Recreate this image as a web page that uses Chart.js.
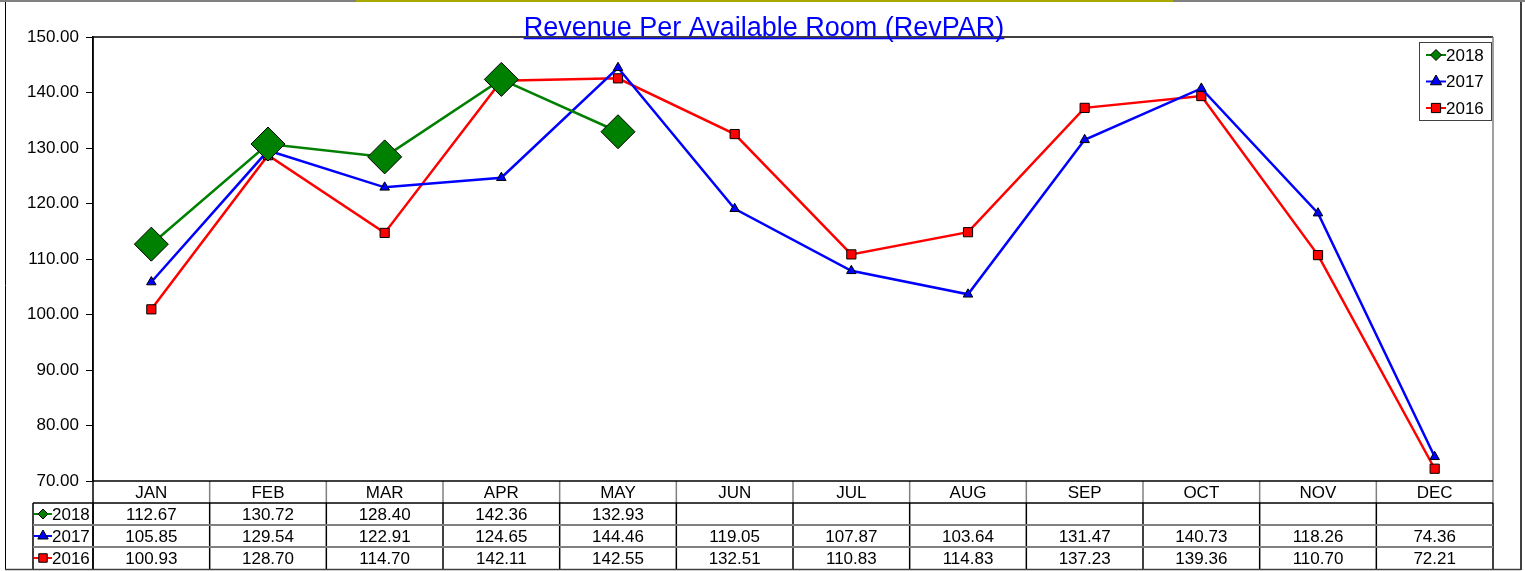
<!DOCTYPE html>
<html>
<head>
<meta charset="utf-8">
<script src="https://cdn.jsdelivr.net/npm/chart.js@4/dist/chart.umd.min.js"></script>
<style>
  html, body { margin: 0; padding: 0; background: #fff; }
</style>
</head>
<body>
<canvas id="revpar" width="1525" height="571"></canvas>
<script>
const months = ['JAN', 'FEB', 'MAR', 'APR', 'MAY', 'JUN', 'JUL', 'AUG', 'SEP', 'OCT', 'NOV', 'DEC'];
const rev2018 = [112.67, 130.72, 128.40, 142.36, 132.93, null, null, null, null, null, null, null];
const rev2017 = [105.85, 129.54, 122.91, 124.65, 144.46, 119.05, 107.87, 103.64, 131.47, 140.73, 118.26, 74.36];
const rev2016 = [100.93, 128.70, 114.70, 142.11, 142.55, 132.51, 110.83, 114.83, 137.23, 139.36, 110.70, 72.21];
const yTicks = [70, 80, 90, 100, 110, 120, 130, 140, 150];

const FONT = '"Liberation Sans", Arial, sans-serif';

function marker(ctx, style, x, y, r, fill) {
  ctx.beginPath();
  if (style === 'rectRot') {
    ctx.moveTo(x, y - r); ctx.lineTo(x + r, y); ctx.lineTo(x, y + r); ctx.lineTo(x - r, y);
  } else if (style === 'triangle') {
    ctx.moveTo(x, y - r); ctx.lineTo(x + r * 0.866, y + r * 0.5); ctx.lineTo(x - r * 0.866, y + r * 0.5);
  } else {
    const h = r * 0.707;
    ctx.rect(x - h, y - h, 2 * h, 2 * h);
  }
  ctx.closePath();
  ctx.fillStyle = fill;
  ctx.fill();
  ctx.strokeStyle = '#000';
  ctx.lineWidth = 1;
  ctx.stroke();
}

function keyIcon(ctx, ds, x1, x2, y, r) {
  ctx.strokeStyle = ds.borderColor;
  ctx.lineWidth = 2;
  ctx.beginPath(); ctx.moveTo(x1, y); ctx.lineTo(x2, y); ctx.stroke();
  marker(ctx, ds.pointStyle, (x1 + x2) / 2, y, r, ds.pointBackgroundColor);
}

function line(ctx, x1, y1, x2, y2, color, w) {
  ctx.strokeStyle = color;
  ctx.lineWidth = w;
  ctx.beginPath(); ctx.moveTo(x1, y1); ctx.lineTo(x2, y2); ctx.stroke();
}

const extras = {
  id: 'extras',
  afterDraw(chart) {
    const ctx = chart.ctx;
    const a = chart.chartArea;
    const xs = chart.scales.x;
    const sets = chart.data.datasets;
    const colW = (a.right - a.left) / months.length;
    ctx.save();

    // sheet strip at the very top
    ctx.fillStyle = '#808080';
    ctx.fillRect(0, 0, 1525, 2);
    ctx.fillStyle = '#a8a800';
    ctx.fillRect(356, 0, 817, 2);

    // plot frame: top black, right grey
    line(ctx, a.left, a.top, a.right, a.top, '#000', 1.5);
    line(ctx, a.right, a.top, a.right, 503, '#808080', 1.5);

    // title
    const title = 'Revenue Per Available Room (RevPAR)';
    ctx.font = '27px ' + FONT;
    ctx.fillStyle = '#0000ff';
    ctx.textAlign = 'center';
    ctx.textBaseline = 'alphabetic';
    const tx = 764;
    ctx.fillText(title, tx, 36);
    const tw = ctx.measureText(title).width;
    line(ctx, tx - tw / 2, 38.5, tx + tw / 2, 38.5, '#0000ff', 1.5);

    // legend box
    ctx.fillStyle = '#fff';
    ctx.fillRect(1419, 42, 73, 79);
    ctx.strokeStyle = '#404040';
    ctx.lineWidth = 1;
    ctx.strokeRect(1419.5, 42.5, 72, 78);
    ctx.font = '17px ' + FONT;
    ctx.textAlign = 'left';
    ctx.textBaseline = 'middle';
    sets.forEach((ds, i) => {
      const y = 55 + i * 26.5;
      keyIcon(ctx, ds, 1426, 1446, y, ds.pointStyle === 'rectRot' ? 5.5 : 6.5);
      ctx.fillStyle = '#000';
      ctx.fillText(ds.label, 1446, y + 1);
    });

    // data table
    const rows = [a.bottom, a.bottom + 22, a.bottom + 44, a.bottom + 66, a.bottom + 88];
    ctx.font = '17px ' + FONT;
    ctx.textAlign = 'center';
    ctx.fillStyle = '#000';
    months.forEach((m, i) => {
      const cx = xs.getPixelForValue(i);
      ctx.fillText(m, cx, (rows[0] + rows[1]) / 2 + 1);
      sets.forEach((ds, r) => {
        const v = ds.data[i];
        if (v !== null) ctx.fillText(v.toFixed(2), cx, (rows[r + 1] + rows[r + 2]) / 2 + 1);
      });
    });
    sets.forEach((ds, r) => {
      const y = (rows[r + 1] + rows[r + 2]) / 2;
      keyIcon(ctx, ds, 34, 52, y, ds.pointStyle === 'rectRot' ? 5 : 6);
      ctx.fillStyle = '#000';
      ctx.textAlign = 'left';
      ctx.fillText(ds.label, 52, y + 1);
    });

    // table grid
    for (let i = 1; i < months.length; i++) {
      const x = a.left + i * colW;
      line(ctx, x, rows[0], x, rows[1], '#808080', 1.5);
    }
    for (let i = 0; i <= months.length; i++) {
      const x = a.left + i * colW;
      line(ctx, x, rows[1], x, rows[4], '#000', 1.5);
    }
    line(ctx, a.left, a.top, a.left, rows[4], '#000', 1.5);
    line(ctx, 33, rows[1], 33, rows[4], '#000', 1.5);
    line(ctx, a.left, rows[0], a.right, rows[0], '#000', 1.5);
    line(ctx, 33, rows[1], a.right, rows[1], '#000', 1.5);
    line(ctx, 33, rows[2], a.right, rows[2], '#808080', 2);
    line(ctx, 33, rows[3], a.right, rows[3], '#808080', 2);

    // outer frame
    line(ctx, 5.5, 2, 5.5, 569, '#000', 1);
    line(ctx, 1521, 2, 1521, 570, '#000', 1.5);
    line(ctx, 5, 569.5, 1521, 569.5, '#404040', 1.5);

    ctx.restore();
  }
};

new Chart(document.getElementById('revpar'), {
  type: 'line',
  data: {
    labels: months,
    datasets: [
      {
        label: '2018', data: rev2018,
        borderColor: '#008000', borderWidth: 2.5,
        pointStyle: 'rectRot', pointRadius: 17,
        pointBackgroundColor: '#008000', pointBorderColor: '#000', pointBorderWidth: 1
      },
      {
        label: '2017', data: rev2017,
        borderColor: '#0000ff', borderWidth: 2.5,
        pointStyle: 'triangle', pointRadius: 5.5,
        pointBackgroundColor: '#0000ff', pointBorderColor: '#000', pointBorderWidth: 1
      },
      {
        label: '2016', data: rev2016,
        borderColor: '#ff0000', borderWidth: 2.5,
        pointStyle: 'rect', pointRadius: 6.5,
        pointBackgroundColor: '#ff0000', pointBorderColor: '#000', pointBorderWidth: 1
      }
    ]
  },
  options: {
    responsive: false,
    animation: false,
    events: [],
    layout: { padding: { top: 37, right: 32, bottom: 90, left: 0 } },
    plugins: {
      legend: { display: false },
      title: { display: false },
      tooltip: { enabled: false }
    },
    scales: {
      x: { display: false, offset: true },
      y: {
        min: yTicks[0],
        max: yTicks[yTicks.length - 1],
        afterBuildTicks: s => { s.ticks = yTicks.map(v => ({ value: v })); },
        afterFit: s => { s.width = 93; },
        ticks: {
          color: '#000',
          padding: 7,
          font: { family: FONT, size: 17 },
          callback: v => Number(v).toFixed(2)
        },
        grid: { drawOnChartArea: false, tickLength: 7, color: '#000', lineWidth: 1 },
        border: { color: '#000', width: 1.5 }
      }
    }
  },
  plugins: [extras]
});
</script>
</body>
</html>
